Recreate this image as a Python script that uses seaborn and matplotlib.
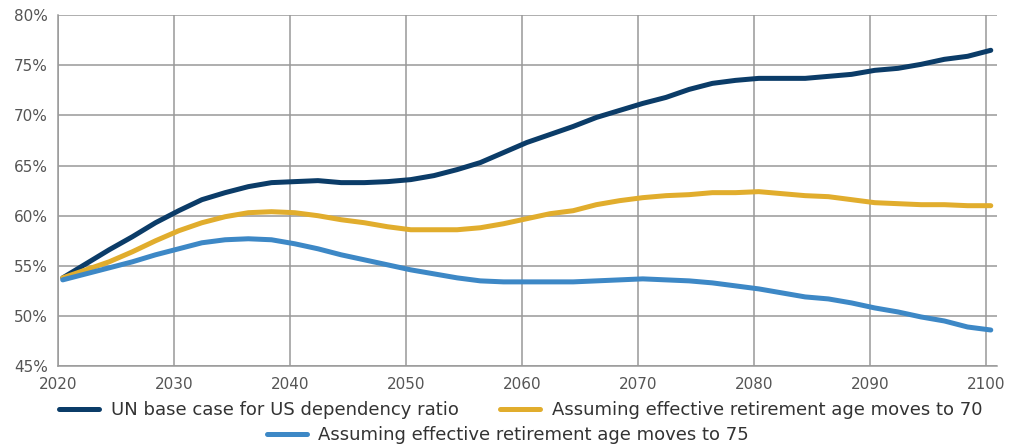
import numpy as np
import pandas as pd
import matplotlib
matplotlib.use("Agg")
import matplotlib.pyplot as plt
import seaborn as sns

years = list(range(2020, 2101, 2))

base_case = [53.8, 55.2, 56.6, 57.9, 59.3, 60.5, 61.6, 62.3, 62.9, 63.3, 63.4,
             63.5, 63.3, 63.3, 63.4, 63.6, 64.0, 64.6, 65.3, 66.3, 67.3,
             68.1, 68.9, 69.8, 70.5, 71.2, 71.8, 72.6, 73.2, 73.5, 73.7,
             73.7, 73.7, 73.9, 74.1, 74.5, 74.7, 75.1, 75.6, 75.9, 76.5]

age_70 = [53.8, 54.6, 55.4, 56.4, 57.5, 58.5, 59.3, 59.9, 60.3, 60.4, 60.3,
          60.0, 59.6, 59.3, 58.9, 58.6, 58.6, 58.6, 58.8, 59.2, 59.7,
          60.2, 60.5, 61.1, 61.5, 61.8, 62.0, 62.1, 62.3, 62.3, 62.4,
          62.2, 62.0, 61.9, 61.6, 61.3, 61.2, 61.1, 61.1, 61.0, 61.0]

age_75 = [53.6, 54.2, 54.8, 55.4, 56.1, 56.7, 57.3, 57.6, 57.7, 57.6, 57.2,
          56.7, 56.1, 55.6, 55.1, 54.6, 54.2, 53.8, 53.5, 53.4, 53.4,
          53.4, 53.4, 53.5, 53.6, 53.7, 53.6, 53.5, 53.3, 53.0, 52.7,
          52.3, 51.9, 51.7, 51.3, 50.8, 50.4, 49.9, 49.5, 48.9, 48.6]

labels = ["UN base case for US dependency ratio",
          "Assuming effective retirement age moves to 70",
          "Assuming effective retirement age moves to 75"]
colors = ["#0b3c68", "#e1ad2d", "#3d88c6"]

df = pd.concat([
    pd.DataFrame({"year": np.array(years) + 0.4, "value": vals, "series": lab})
    for vals, lab in zip([base_case, age_70, age_75], labels)
])

sns.set_style("white")
plt.rcParams["font.family"] = ["DejaVu Sans"]

fig = plt.figure(figsize=(10.19, 4.47), dpi=100)
ax = fig.add_axes([0.057, 0.181, 0.921, 0.785])

sns.lineplot(data=df, x="year", y="value", hue="series", palette=colors,
             linewidth=3.6, ax=ax, legend=False, solid_capstyle="round")

ax.set_xlim(2020, 2100.9)
ax.set_ylim(45, 80)
ax.set_xticks(range(2020, 2101, 10))
ax.set_yticks(range(45, 81, 5))
ax.set_yticklabels([f"{v}%" for v in range(45, 81, 5)])
ax.grid(True, color="#999999", linewidth=1.1)
ax.set_axisbelow(True)
for s in ["top", "right"]:
    ax.spines[s].set_visible(False)
for s in ["left", "bottom"]:
    ax.spines[s].set_color("#999999")
    ax.spines[s].set_linewidth(1.1)
ax.tick_params(axis="both", labelsize=11, colors="#555555", length=4,
               color="#999999")
ax.tick_params(axis="x", pad=4)
ax.set_xlabel("")
ax.set_ylabel("")

# legend: two entries on the first row, the third centred below
handles = [plt.Line2D([], [], color=c, linewidth=3.6) for c in colors]
fig.legend(handles[:2], labels[:2], ncol=2, loc="center",
           bbox_to_anchor=(0.511, 0.083), frameon=False, fontsize=13,
           handlelength=2.2, handletextpad=0.65, columnspacing=2.3,
           labelcolor="#333333")
fig.legend(handles[2:], labels[2:], loc="center",
           bbox_to_anchor=(0.4985, 0.027), frameon=False, fontsize=13,
           handlelength=2.2, handletextpad=0.65, labelcolor="#333333")

fig.savefig("out.png", dpi=100)
